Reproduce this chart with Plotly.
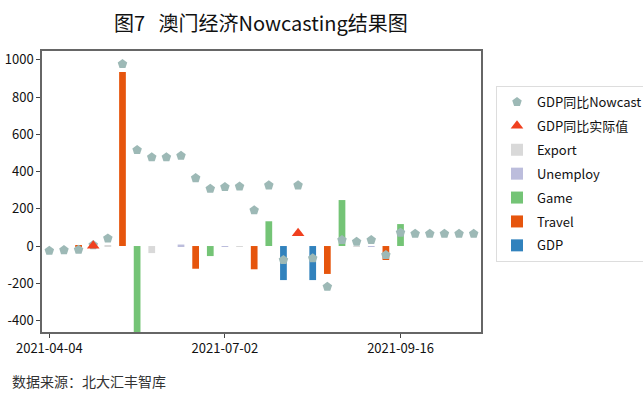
import plotly.graph_objects as go

# ---- data ----
periods = list(range(30))
nowcast = [-25, -22, -20, 5, 41, 978, 516, 477, 477, 485,
           365, 308, 317, 320, 192, 326, -75, 326, -66, -219,
           32, 23, 32, -48, 72, 66, 66, 66, 66, 66]
actual_x = [3, 17]
actual = [2, 68]
export = [0, 0, 0, 0, 3, 0, 0, -38, 0, 0,
          0, 0, 0, -3, 0, 0, 0, 0, 0, 0,
          0, -3, 0, 0, 0, 0, 0, 0, 0, 0]
unemploy = [0, 0, 0, 0, 0, 0, 0, 0, 0, 8,
            0, 0, -3, 0, 0, 0, 0, 0, 0, 0,
            0, 0, -3, 0, 0, 0, 0, 0, 0, 0]
game = [0, 0, 0, 3, 0, 0, -470, 0, 0, 0,
        0, -54, 0, 0, 0, 133, 0, 0, 0, 0,
        247, 0, 0, 0, 118, 0, 0, 0, 0, 0]
travel = [0, 0, 4, 5, 0, 935, 0, 0, 0, 0,
          -122, 0, 0, 0, -125, 0, 0, 0, 0, -150,
          0, 0, 0, -75, 0, 0, 0, 0, 0, 0]
gdp = [0, 0, 0, 0, 0, 0, 0, 0, 0, 0,
       0, 0, 0, 0, 0, 0, -183, 0, -183, 0,
       0, 0, 0, 0, 0, 0, 0, 0, 0, 0]
xtick_pos = [0, 12, 24]
xtick_labels = ["2021-04-04", "2021-07-02", "2021-09-16"]
ytick_vals = [-400, -200, 0, 200, 400, 600, 800, 1000]
ytick_labels = ["-400", "-200", "0", "200", "400", "600", "800", "1000"]

title_text = "图7   澳门经济Nowcasting结果图"
source_text = "数据来源：北大汇丰智库"

FONT = "Noto Sans CJK SC, Liberation Sans, sans-serif"
CJK = "Noto Sans CJK SC, sans-serif"

L, R, T, B = 42, 162, 51, 67
W, H = 643, 399
pw, ph = W - L - R, H - T - B


def px_to_paper(xp, yp):
    return (xp - L) / pw, 1 - (yp - T) / ph


fig = go.Figure()
fig.add_trace(go.Scatter(x=periods, y=nowcast, mode="markers", name="GDP同比Nowcast",
                         legendgroup="g1",
                         marker=dict(symbol="pentagon", size=10, color="#9db9b6")))
fig.add_trace(go.Scatter(x=actual_x, y=actual, mode="markers", name="GDP同比实际值",
                         legendgroup="g2",
                         marker=dict(symbol="triangle-up", size=11, color="#f0401f")))
bw = 0.46
for i, (name, vals, col) in enumerate([("Export", export, "#d9d9d9"),
                                       ("Unemploy", unemploy, "#bcbddc"),
                                       ("Game", game, "#74c476"),
                                       ("Travel", travel, "#e6550d"),
                                       ("GDP", gdp, "#3182bd")]):
    fig.add_trace(go.Bar(x=periods, y=vals, name=name, width=bw,
                         legendgroup=f"b{i}",
                         marker=dict(color=col, line=dict(width=0))))

tx, ty = px_to_paper(261, 22)
sx, sy = px_to_paper(10, 381)
lx, ly = px_to_paper(496, 86)

fig.update_layout(
    width=W, height=H,
    margin=dict(l=L, r=R, t=T, b=B, autoexpand=False),
    paper_bgcolor="white", plot_bgcolor="white",
    barmode="relative",
    showlegend=True,
    legend=dict(x=lx, y=ly, xanchor="left", yanchor="top",
                bordercolor="#dddddd", borderwidth=1,
                font=dict(family=CJK, size=13, color="#111111"),
                tracegroupgap=4, itemwidth=30),
    font=dict(family=FONT, size=14, color="#111111"),
    annotations=[
        dict(text=title_text, x=tx, y=ty, xref="paper", yref="paper",
             xanchor="center", yanchor="middle",
             showarrow=False, font=dict(family=CJK, size=20, color="#111111")),
        dict(text=source_text, x=sx, y=sy, xref="paper", yref="paper",
             xanchor="left", yanchor="middle", showarrow=False,
             font=dict(family=CJK, size=14, color="#333333")),
    ],
)

fig.update_xaxes(range=[-0.5, 29.5], tickmode="array", tickvals=xtick_pos,
                 ticktext=xtick_labels, showgrid=False, zeroline=False,
                 showline=True, linecolor="#666666", linewidth=1.5, mirror=True,
                 ticks="outside", ticklen=4, tickcolor="#444444",
                 tickfont=dict(family=FONT, size=13, color="#111111"))
fig.update_yaxes(range=[-462, 1048], tickmode="array", tickvals=ytick_vals,
                 ticktext=ytick_labels, showgrid=False, zeroline=False,
                 showline=True, linecolor="#666666", linewidth=1.5, mirror=True,
                 ticks="outside", ticklen=4, tickcolor="#444444",
                 tickfont=dict(family=FONT, size=13, color="#111111"))

fig.write_html("out.html", config={"displayModeBar": False},
               post_script="document.body.style.margin='0';document.body.style.overflow='hidden';")
